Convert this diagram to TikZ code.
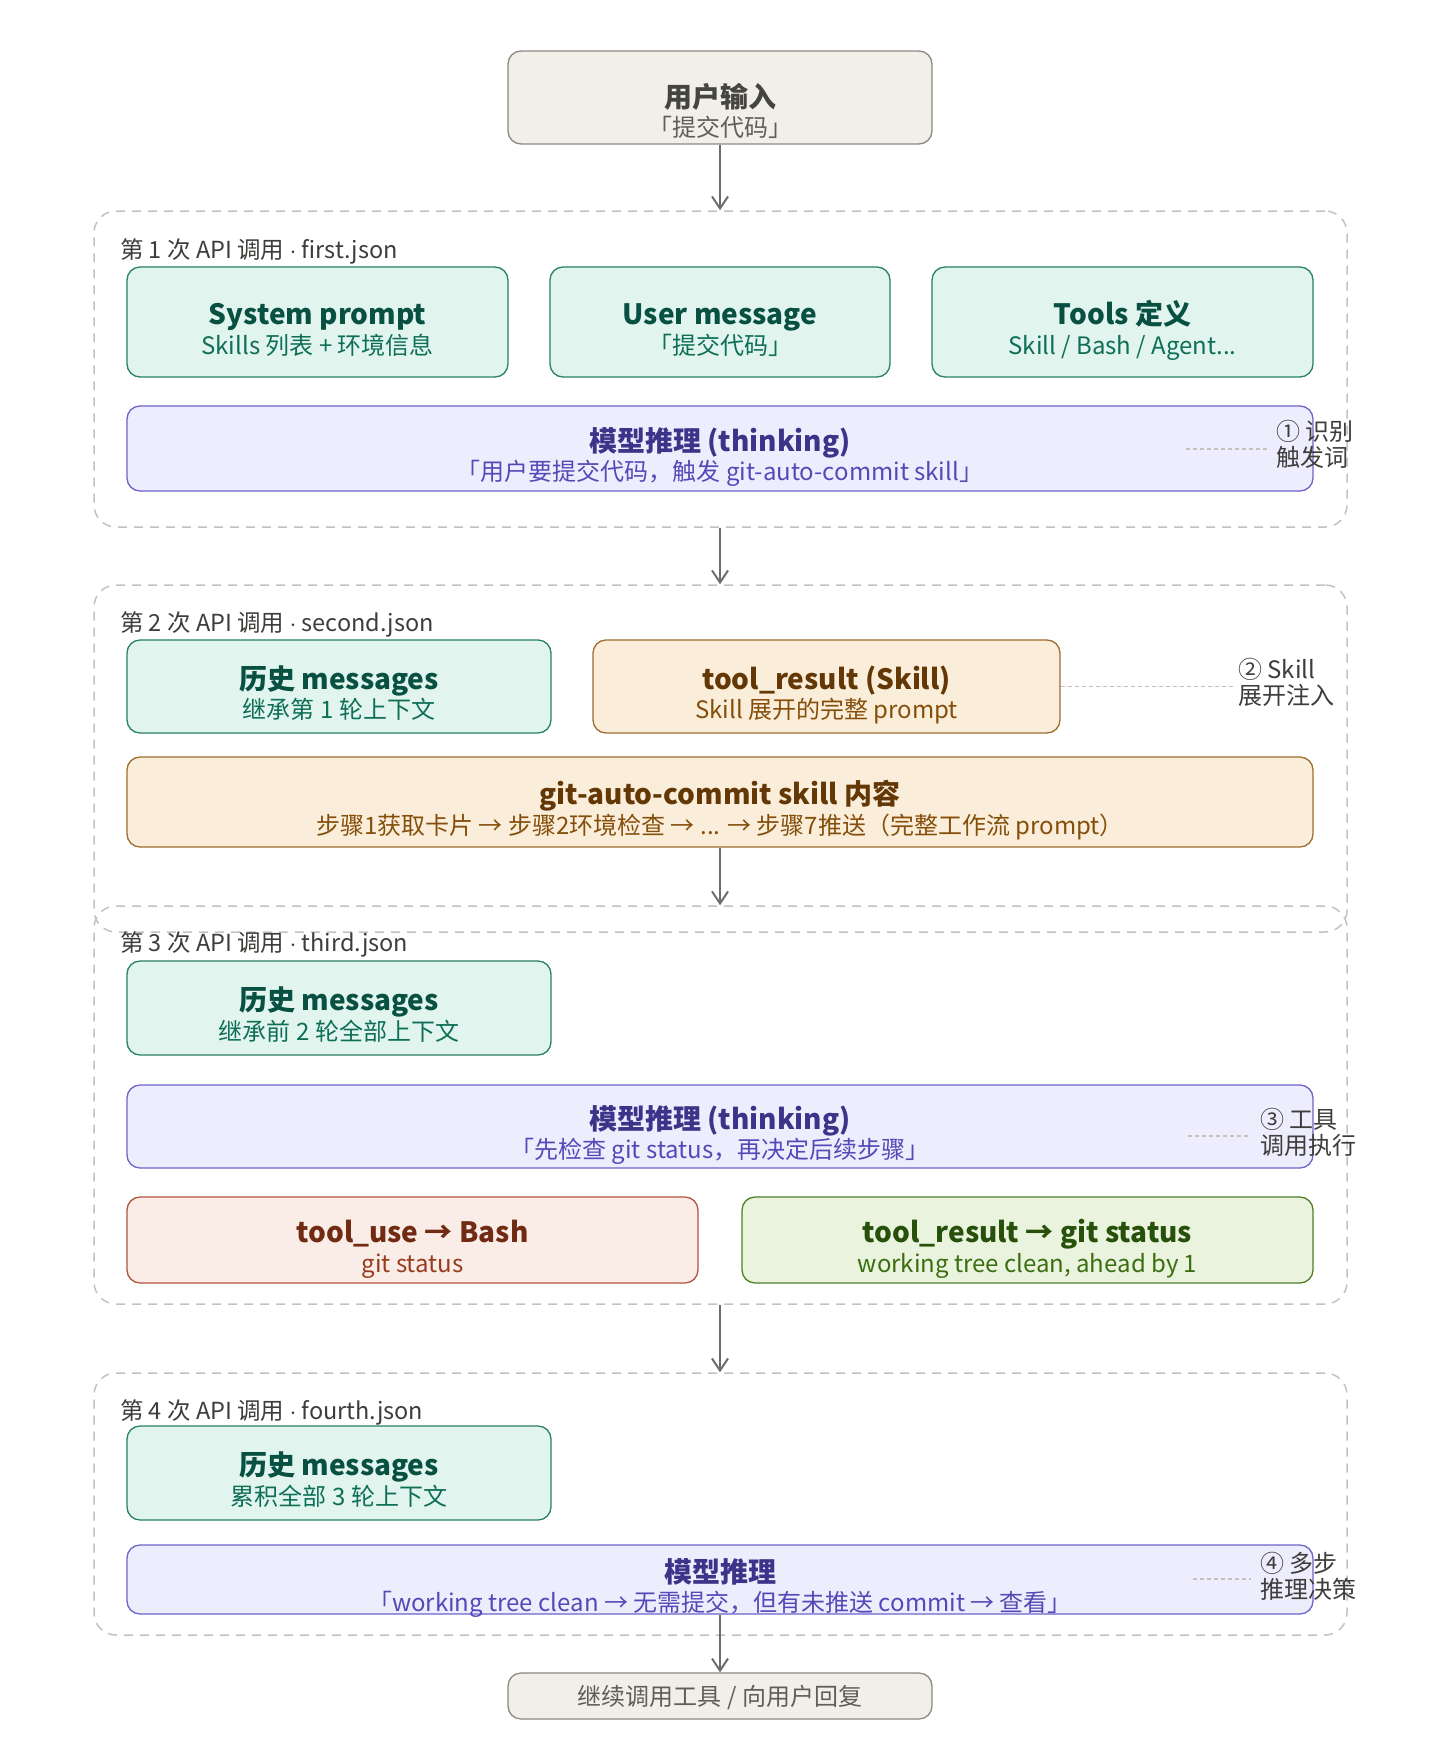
\documentclass[tikz,border=0pt]{standalone}
\usepackage{fontspec}
\setmainfont{Noto Sans CJK SC}
\usetikzlibrary{calc,arrows.meta}
\definecolor{beigeF}{HTML}{F1EFE8}\definecolor{beigeD}{HTML}{8A8983}\definecolor{beigeT}{HTML}{444441}\definecolor{beigeS}{HTML}{5F5E5A}
\definecolor{tealF}{HTML}{E1F5EE}\definecolor{tealD}{HTML}{2B8068}\definecolor{tealT}{HTML}{085041}\definecolor{tealS}{HTML}{0F6E56}
\definecolor{purpleF}{HTML}{EEEDFE}\definecolor{purpleD}{HTML}{6C63CC}\definecolor{purpleT}{HTML}{3C3489}\definecolor{purpleS}{HTML}{534AB7}
\definecolor{amberF}{HTML}{FAEEDA}\definecolor{amberD}{HTML}{A06C30}\definecolor{amberT}{HTML}{633806}\definecolor{amberS}{HTML}{854F0B}
\definecolor{coralF}{HTML}{FAECE7}\definecolor{coralD}{HTML}{B0553A}\definecolor{coralT}{HTML}{712B13}\definecolor{coralS}{HTML}{993C1D}
\definecolor{limeF}{HTML}{EAF3DE}\definecolor{limeD}{HTML}{4E7F26}\definecolor{limeT}{HTML}{27500A}\definecolor{limeS}{HTML}{3B6D11}
\definecolor{grpD}{HTML}{C4C2BA}\definecolor{noteT}{HTML}{3D3D3A}\definecolor{arrowC}{HTML}{6E6D68}
\tikzset{
  box/.style={draw=#1D, fill=#1F, line width=1.3pt, rounded corners=13pt, inner sep=0pt},
  ttl/.style={text=#1T, font=\fontsize{28}{32}\selectfont\bfseries, inner sep=0pt, text height=21pt, text depth=0pt},
  sub/.style={text=#1S, font=\fontsize{24}{28}\selectfont, inner sep=0pt, text height=18pt, text depth=0pt},
  grp/.style={draw=grpD, line width=1.5pt, dash pattern=on 9pt off 7pt, rounded corners=22pt, inner sep=0pt},
  grplabel/.style={anchor=west, text=noteT, font=\fontsize{23.5}{26}\selectfont, inner sep=0pt, text height=17pt, text depth=0pt},
  note/.style={anchor=west, align=left, text=noteT, font=\fontsize{24}{26}\selectfont, inner sep=0pt},
  arr/.style={draw=arrowC, line width=2pt, -{Straight Barb[length=12pt,width=16pt]}},
  dots/.style={draw=grpD, line width=1.5pt, dash pattern=on 4pt off 3pt},
}
\def\mdot{$\cdot$}
\def\card[#1](#2,#3)(#4,#5)#6#7#8{%
  \node[box=#1, minimum width={#4-#2}, minimum height={#5-#3}] (#6) at ({(#2+#4)/2},{(#3+#5)/2}) {};
  \node[ttl=#1] (#6t) at ($(#6.center)+(0,-8)$) {#7};
  \node[sub=#1] (#6s) at ($(#6.center)+(0,23)$) {#8};}

\begin{document}
\begin{tikzpicture}[x=1pt,y=-1pt]
%%%%% START %%%%%
\fill[white] (0,0) rectangle (1440,1740);
\useasboundingbox (0,0) rectangle (1440,1740);

% api call frames
\node[grp, minimum width=1253, minimum height=316] (g1) at (720.5,369) {};
\node[grp, minimum width=1253, minimum height=347] (g2) at (720.5,758.5) {};
\node[grp, minimum width=1253, minimum height=398] (g3) at (720.5,1105) {};
\node[grp, minimum width=1253, minimum height=262] (g4) at (720.5,1504) {};
\node[grplabel] (g1l) at (120,250) {第 1 次 API 调用 \mdot{} first.json};
\node[grplabel] (g2l) at (120,623) {第 2 次 API 调用 \mdot{} second.json};
\node[grplabel] (g3l) at (120,943) {第 3 次 API 调用 \mdot{} third.json};
\node[grplabel] (g4l) at (120,1411) {第 4 次 API 调用 \mdot{} fourth.json};

% input
\node[box=beige, minimum width=424, minimum height=93] (user) at (720,97.5) {};
\node[ttl=beige] (usert) at ($(user.center)+(0,-1)$) {用户输入};
\node[sub=beige] (users) at ($(user.center)+(0,30)$) {「提交代码」};

% call 1
\card[teal](127,267)(508,377){sys}{System prompt}{Skills 列表 + 环境信息}
\card[teal](550,267)(890,377){umsg}{User message}{「提交代码」}
\card[teal](932,267)(1313,377){tools}{Tools 定义}{Skill / Bash / Agent...}
\card[purple](127,406)(1313,491){think1}{模型推理 (thinking)}{「用户要提交代码，触发 git-auto-commit skill」}
\node[note] (n1) at (1276,444.5) {① 识别\\触发词};
\coordinate (d1) at (1186,449);
\draw[dots] (d1) -- ([xshift=-9pt]n1.west |- d1);

% call 2
\card[teal](127,640)(551,733){hist2}{历史 messages}{继承第 1 轮上下文}
\card[amber](593,640)(1060,733){tres}{tool\_result (Skill)}{Skill 展开的完整 prompt}
\card[amber](127,757)(1313,847){skill}{git-auto-commit skill 内容}{步骤1获取卡片 → 步骤2环境检查 → ... → 步骤7推送（完整工作流 prompt）}
\node[note] (n2) at (1238,682) {② Skill\\展开注入};
\draw[dots] (tres.east) -- ([xshift=-5pt]n2.west |- tres.east);

% call 3
\card[teal](127,961)(551,1055){hist3}{历史 messages}{继承前 2 轮全部上下文}
\card[purple](127,1085)(1313,1168){think3}{模型推理 (thinking)}{「先检查 git status，再决定后续步骤」}
\card[coral](127,1197)(698,1283){tuse}{tool\_use → Bash}{git status}
\card[lime](742,1197)(1313,1283){tres2}{tool\_result → git status}{working tree clean, ahead by 1}
\node[note] (n3) at (1260,1132.5) {③ 工具\\调用执行};
\coordinate (d3) at (1188,1136);
\draw[dots] (d3) -- ([xshift=-10pt]n3.west |- d3);

% call 4
\card[teal](127,1426)(551,1520){hist4}{历史 messages}{累积全部 3 轮上下文}
\card[purple](127,1545)(1313,1614){think4}{模型推理}{「working tree clean → 无需提交，但有未推送 commit → 查看」}
\node[note] (n4) at (1260,1576) {④ 多步\\推理决策};
\coordinate (d4) at (1193,1579);
\draw[dots] (d4) -- ([xshift=-9pt]n4.west |- d4);

% output
\node[box=beige, minimum width=424, minimum height=46] (reply) at (720,1696) {};
\node[sub=beige] (replyt) at (reply.center) {继续调用工具 / 向用户回复};

% flow
\draw[arr] (user.south) -- (user.south |- g1.north);
\draw[arr] (user.south |- g1.south) -- (user.south |- g2.north);
\draw[arr] (skill.south) -- (skill.south |- g3.north);
\draw[arr] (user.south |- g3.south) -- (user.south |- g4.north);
\draw[arr] (think4.south) -- (reply.north);
%%%%% END %%%%%
\end{tikzpicture}
\end{document}
